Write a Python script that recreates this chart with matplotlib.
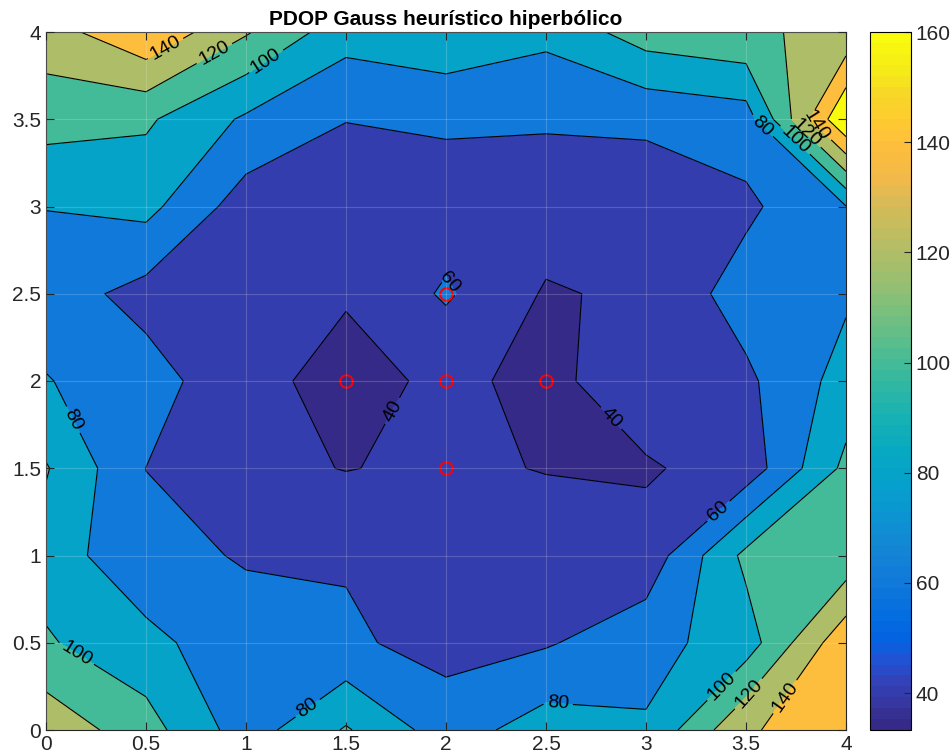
import numpy as np
import matplotlib
matplotlib.use("Agg")
import matplotlib.pyplot as plt
from matplotlib.colors import LinearSegmentedColormap, Normalize
from matplotlib.cm import ScalarMappable
from matplotlib.ticker import FormatStrFormatter

plt.rcParams["font.family"] = ["Liberation Sans", "DejaVu Sans"]

# grid of test positions (m)
xs = [0, 0.5, 1, 1.5, 2, 2.5, 3, 3.5, 4]
ys = [0, 0.5, 1, 1.5, 2, 2.5, 3, 3.5, 4]

# PDOP values, one row per y (from y=0 up to y=4)
pdop = [
    [134.0, 108.0, 70.0, 102.0, 70.0, 90.0, 82.2, 137.8, 152.0],
    [102.0, 87.0, 64.0, 63.0, 53.5, 58.0, 72.9, 90.0, 155.0],
    [92.0, 63.0, 59.2, 58.3, 48.0, 53.0, 47.0, 105.0, 106.0],
    [101.5, 59.9, 45.7, 39.3, 44.0, 39.0, 38.0, 48.0, 105.0],
    [81.0, 68.4, 45.9, 33.3, 44.0, 35.3, 51.0, 56.0, 88.0],
    [70.0, 53.0, 44.0, 41.7, 62.5, 38.0, 43.6, 69.0, 77.0],
    [80.5, 86.0, 50.0, 45.0, 50.0, 50.0, 48.0, 56.0, 79.5],
    [108.0, 103.0, 77.0, 60.6, 63.0, 62.0, 63.8, 70.0, 180.0],
    [131.0, 157.0, 122.0, 88.0, 95.7, 85.3, 110.0, 117.0, 125.0],
]

# anchor (receiver) positions
anchor_x = [1.5, 2, 2.5, 2, 2]
anchor_y = [2, 2, 2, 1.5, 2.5]

levels = [40, 60, 80, 100, 120, 140, 160]
cmin, cmax = 33.3, 160

# where the inline level labels go
label_pos = [
    (0.60, 3.90), (0.84, 3.88), (1.09, 3.85),
    (3.58, 3.46), (3.745, 3.38), (3.80, 3.42), (3.85, 3.46),
    (2.0, 2.55), (1.73, 1.83), (2.82, 1.78),
    (0.14, 1.78), (3.35, 1.27), (0.16, 0.45),
    (1.28, 0.17), (2.56, 0.15), (3.38, 0.25), (3.52, 0.20), (3.67, 0.21),
]

# parula anchors: (index out of 63, rgb)
parula_pts = [
    (0, (0.2081, 0.1663, 0.5292)), (2, (0.2123, 0.2138, 0.6270)),
    (4, (0.1959, 0.2645, 0.7279)), (6, (0.1253, 0.3242, 0.8303)),
    (7, (0.0591, 0.3598, 0.8683)), (8, (0.0117, 0.3875, 0.8820)),
    (10, (0.0165, 0.4266, 0.8786)), (13, (0.0629, 0.4737, 0.8554)),
    (16, (0.0793, 0.5200, 0.8312)), (19, (0.0488, 0.5772, 0.8228)),
    (22, (0.0239, 0.6287, 0.8038)), (25, (0.0267, 0.6642, 0.7607)),
    (28, (0.0843, 0.6928, 0.7062)), (32, (0.2178, 0.7250, 0.6193)),
    (36, (0.3953, 0.7459, 0.5244)), (40, (0.5709, 0.7485, 0.4494)),
    (44, (0.7184, 0.7411, 0.3905)), (48, (0.8507, 0.7299, 0.3360)),
    (50, (0.9450, 0.7261, 0.2886)), (53, (0.9938, 0.7455, 0.2403)),
    (55, (0.9955, 0.7861, 0.1967)), (58, (0.9697, 0.8481, 0.1475)),
    (60, (0.9598, 0.9218, 0.0948)), (63, (0.9763, 0.9831, 0.0538)),
]
parula = LinearSegmentedColormap.from_list(
    "parula", [(i / 63, c) for i, c in parula_pts], N=64)
norm = Normalize(cmin, cmax)

X, Y = np.meshgrid(xs, ys)
Z = np.array(pdop)

fig = plt.figure(figsize=(9.52, 7.56), dpi=100)
ax = fig.add_axes([46 / 952, 26 / 756, 800 / 952, 698 / 756])

# each band takes the colour of its lower level
bounds = [Z.min()] + levels + [Z.max()]
band_colors = [parula(norm(b)) for b in bounds[:-1]]
ax.contourf(X, Y, Z, levels=bounds, colors=band_colors)
cl = ax.contour(X, Y, Z, levels=levels, colors="k", linewidths=0.8)
ax.clabel(cl, manual=label_pos, fmt="%d", fontsize=14, inline=True, inline_spacing=4)

ax.plot(anchor_x, anchor_y, "o", mfc="none", mec="red", ms=9, mew=1.4)

ax.set_xlim(0, 4)
ax.set_ylim(0, 4)
ax.set_xticks(xs)
ax.set_yticks(ys)
ax.xaxis.set_major_formatter(FormatStrFormatter("%g"))
ax.yaxis.set_major_formatter(FormatStrFormatter("%g"))
ax.set_axisbelow(False)
ax.grid(True, color="white", alpha=0.18, linewidth=0.8)
ax.tick_params(direction="in", top=True, right=True, length=6, labelsize=15,
               colors="#262626", width=0.8)
for s in ax.spines.values():
    s.set_color("#262626")
    s.set_linewidth(0.8)
ax.set_title("PDOP Gauss heurístico hiperbólico", fontsize=15,
             fontweight="bold", pad=5)

cax = fig.add_axes([870 / 952, 26 / 756, 41 / 952, 698 / 756])
cb = fig.colorbar(ScalarMappable(norm=norm, cmap=parula), cax=cax, ticks=levels)
cb.ax.tick_params(direction="in", length=5, labelsize=15, colors="#262626", width=0.8)
cb.outline.set_linewidth(0.8)

fig.savefig("out.png", dpi=100)
